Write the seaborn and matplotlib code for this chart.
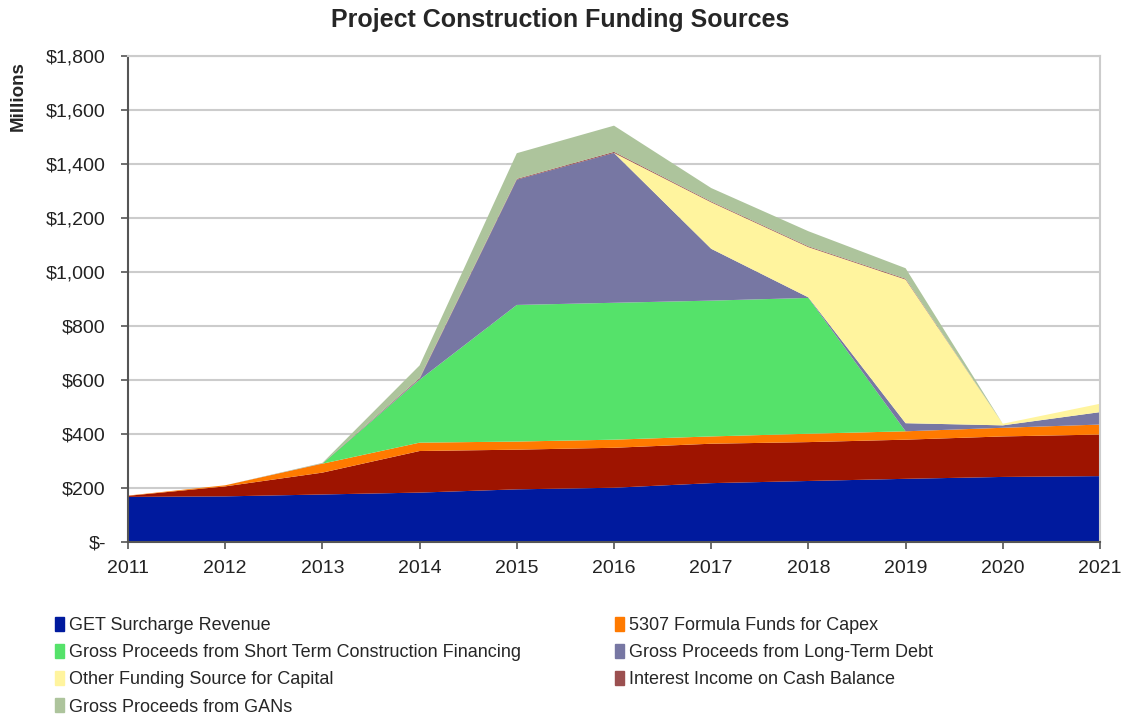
import matplotlib
matplotlib.use('Agg')
import matplotlib.pyplot as plt
import matplotlib.patches as mpatches
import matplotlib.ticker as mticker
import seaborn as sns

# データ (単位: 百万ドル)
years = [2011, 2012, 2013, 2014, 2015, 2016, 2017, 2018, 2019, 2020, 2021]
get_surcharge = [167, 169, 176, 183, 195, 201, 218, 226, 234, 241, 244]
unlabeled_red = [4, 37, 81, 154, 147, 148, 146, 144, 145, 150, 154]
formula_5307 = [1, 4, 33, 31, 30, 30, 27, 31, 31, 32, 37]
short_term = [0, 0, 0, 233, 506, 507, 503, 503, 0, 0, 0]
long_term = [0, 0, 0, 3, 464, 555, 192, 2, 30, 9, 46]
other_funding = [0, 0, 0, 0, 0, 0, 172, 186, 532, 6, 31]
interest_income = [0, 0, 1, 3, 3, 4, 3, 3, 3, 0, 0]
gans = [0, 0, 2, 47, 95, 97, 50, 56, 39, 0, 0]

y_ticks = [0, 200, 400, 600, 800, 1000, 1200, 1400, 1600, 1800]

sns.set_theme(style='white')
plt.rcParams['font.family'] = ['Liberation Sans', 'DejaVu Sans']

colors = sns.color_palette(['#001A9E', '#9E1400', '#FF7A00', '#55E26A',
                            '#7777A3', '#FFF49E', '#9B5050', '#ADC49C'])

fig = plt.figure(figsize=(11.24, 7.15), dpi=100)
ax = fig.add_axes([128 / 1124, 1 - 542 / 715, 972 / 1124, 486 / 715])

# 積み上げ面グラフ
ax.stackplot(years, get_surcharge, unlabeled_red, formula_5307, short_term,
             long_term, other_funding, interest_income, gans,
             colors=colors, linewidth=0, edgecolor='none', zorder=2)

ax.set_xlim(2011, 2021)
ax.set_ylim(0, 1800)
ax.set_xticks(years)
ax.set_yticks(y_ticks)
ax.yaxis.set_major_formatter(mticker.FuncFormatter(
    lambda v, p: '$-' if v == 0 else '${:,.0f}'.format(v)))
ax.tick_params(axis='both', labelsize=14, labelcolor='#222222', length=5,
               width=1.2, color='#555555', direction='out',
               left=True, bottom=True)
ax.tick_params(axis='y', pad=11)
ax.tick_params(axis='x', pad=8)
ax.grid(axis='y', color='#cccccc', linewidth=1.5, zorder=0)
ax.set_axisbelow(True)
for side in ['left', 'bottom']:
    ax.spines[side].set_color('#555555')
    ax.spines[side].set_linewidth(1.5)
for side in ['top', 'right']:
    ax.spines[side].set_color('#cccccc')
    ax.spines[side].set_linewidth(1.5)

fig.text(0.498, 1 - 20 / 715, 'Project Construction Funding Sources',
         ha='center', va='center', fontsize=18, fontweight='bold')
fig.text(18 / 1124, 1 - 96 / 715, 'Millions', rotation=90, ha='center',
         va='center', fontsize=13.5, fontweight='bold')

# 凡例 (2列)
labels_left = ['GET Surcharge Revenue',
               'Gross Proceeds from Short Term Construction Financing',
               'Other Funding Source for Capital',
               'Gross Proceeds from GANs']
colors_left = [colors[0], colors[3], colors[5], colors[7]]
labels_right = ['5307 Formula Funds for Capex',
                'Gross Proceeds from Long-Term Debt',
                'Interest Income on Cash Balance']
colors_right = [colors[2], colors[4], colors[6]]

leg_kw = dict(frameon=False, fontsize=13, handlelength=0.5,
              handleheight=0.8, handletextpad=0.25, labelspacing=0.55,
              borderpad=0, borderaxespad=0)
h1 = [mpatches.Patch(color=c, label=l) for c, l in zip(colors_left, labels_left)]
h2 = [mpatches.Patch(color=c, label=l) for c, l in zip(colors_right, labels_right)]
fig.legend(handles=h1, loc='upper left',
           bbox_to_anchor=(55 / 1124, 1 - 617 / 715), **leg_kw)
fig.legend(handles=h2, loc='upper left',
           bbox_to_anchor=(615 / 1124, 1 - 617 / 715), **leg_kw)

plt.savefig('out.png', dpi=100)
